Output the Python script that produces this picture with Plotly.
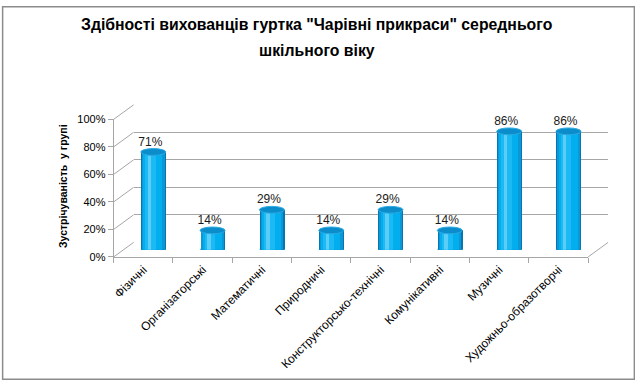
import plotly.graph_objects as go

# ---- data ----
categories = ["Фізичні", "Організаторські", "Математичні", "Природничі",
              "Конструкторсько-технічні", "Комунікативні", "Музичні",
              "Художньо-образотворчі"]
values = [0.71, 0.14, 0.29, 0.14, 0.29, 0.14, 0.86, 0.86]
y_ticks = [0, 0.2, 0.4, 0.6, 0.8, 1.0]
title_lines = ['Здібності вихованців гуртка "Чарівні прикраси" середнього',
               'шкільного віку']
y_title = "Зустрічуваність\u00a0\u00a0у групі"

W, H = 635, 386
GRID = "#a6a6a6"

def px(x):
    return x / W

def py(y):
    return 1 - y / H

# front plane (axes), back wall, middle plane (bars)
front_x = (112, 588)
front_y = (259, 117)
depth = (20, -15)
back_x = (front_x[0] + depth[0], front_x[1] + depth[0])
back_y = (front_y[0] + depth[1], front_y[1] + depth[1])
mid_x = (front_x[0] + depth[0] / 2, front_x[1] + depth[0] / 2)
mid_y = (front_y[0] + depth[1] / 2, front_y[1] + depth[1] / 2)

n = len(categories)
idx = list(range(n))

fig = go.Figure()

# invisible trace to set up the front category axis
fig.add_trace(go.Scatter(x=categories, y=[None] * n, xaxis="x", yaxis="y",
                         mode="markers", showlegend=False, hoverinfo="skip"))

# back wall gridlines (subplot x2/y2, drawn beneath the bars)
fig.add_trace(go.Scatter(x=[0], y=[None], xaxis="x2", yaxis="y2",
                         mode="markers", showlegend=False, hoverinfo="skip"))

# cylinder-like bars (subplot x3/y3): layered bars of decreasing width
layers = [
    (0.42, 0.0, "#0874b0"),
    (0.38, -0.005, "#0a98d6"),
    (0.32, -0.012, "#02aeee"),
    (0.18, -0.05, "#1cbaf4"),
    (0.06, -0.07, "#5ccdf7"),
]
for w, off, col in layers:
    fig.add_trace(go.Bar(x=idx, y=values, xaxis="x3", yaxis="y3",
                         width=w, offset=off - w / 2,
                         marker=dict(color=col, line=dict(width=0)),
                         showlegend=False, hoverinfo="skip"))

# data labels
fig.add_trace(go.Scatter(x=[i - 0.05 for i in idx], y=[v + 0.025 for v in values],
                         xaxis="x3", yaxis="y3", mode="text",
                         text=[f"{round(v * 100)}%" for v in values],
                         textposition="top center",
                         textfont=dict(family="Liberation Sans, Arial", size=12, color="#1a1a1a"),
                         showlegend=False, hoverinfo="skip"))

shapes = []
# cylinder caps (top ellipses) and bottoms
cap_h = 3.5 / (mid_y[0] - mid_y[1])
for i, v in zip(idx, values):
    shapes.append(dict(type="circle", xref="x3", yref="y3",
                       x0=i - 0.21, x1=i + 0.21, y0=-cap_h, y1=cap_h,
                       fillcolor="#0a98d6", line=dict(width=0), layer="below"))
    shapes.append(dict(type="circle", xref="x3", yref="y3",
                       x0=i - 0.21, x1=i + 0.21, y0=v - cap_h, y1=v + cap_h,
                       fillcolor="#0b8ccb", line=dict(color="#2aa9e2", width=1),
                       layer="above"))

# left side wall slanted lines and right floor edge
for t in y_ticks:
    yf = py(front_y[0] + t * (front_y[1] - front_y[0]))
    yb = py(back_y[0] + t * (back_y[1] - back_y[0]))
    shapes.append(dict(type="line", xref="paper", yref="paper",
                       x0=px(front_x[0]), y0=yf, x1=px(back_x[0]), y1=yb,
                       line=dict(color=GRID, width=1), layer="below"))
shapes.append(dict(type="line", xref="paper", yref="paper",
                   x0=px(front_x[1]), y0=py(front_y[0]),
                   x1=px(back_x[1]), y1=py(back_y[0]),
                   line=dict(color=GRID, width=1), layer="below"))
# outer border
shapes.append(dict(type="rect", xref="paper", yref="paper", x0=0.001, y0=0.002,
                   x1=0.999, y1=0.998,
                   line=dict(color="#8c8c8c", width=1.5), fillcolor="rgba(0,0,0,0)"))

annotations = []
title_font = dict(family="Liberation Sans", size=15.8, color="#000000")
for line, y in zip(title_lines, [19, 46]):
    annotations.append(dict(text=f"<b>{line}</b>", xref="paper", yref="paper",
                            x=px(316), y=py(y), showarrow=False, font=title_font,
                            xanchor="center", yanchor="middle"))
annotations.append(dict(text=f"<b>{y_title}</b>", xref="paper", yref="paper",
                        x=px(61), y=py(186), showarrow=False, textangle=-90,
                        font=dict(family="Liberation Sans", size=10.5,
                                  color="#000000"),
                        xanchor="center", yanchor="middle"))

ytick_font = dict(family="Liberation Sans, Arial", size=11, color="#000000")
xtick_font = dict(family="Liberation Sans, Arial", size=12, color="#000000")

fig.update_layout(
    width=W, height=H, margin=dict(l=0, r=0, t=0, b=0),
    paper_bgcolor="white", plot_bgcolor="rgba(0,0,0,0)",
    barmode="overlay", bargap=0,
    xaxis=dict(domain=[px(front_x[0]), px(front_x[1])], type="category",
               range=[-0.5, n - 0.5], tickangle=-45, tickson="boundaries",
               ticks="outside", ticklen=5, tickcolor=GRID, showline=True,
               linecolor=GRID, showgrid=False, tickfont=xtick_font, anchor="y",
               fixedrange=True),
    yaxis=dict(domain=[py(front_y[0]), py(front_y[1])], range=[0, 1],
               tickvals=y_ticks, tickformat=".0%", ticks="outside", ticklen=5,
               tickcolor=GRID, showline=True, linecolor=GRID, showgrid=False,
               zeroline=False, tickfont=ytick_font, anchor="x"),
    xaxis2=dict(domain=[px(back_x[0]), px(back_x[1])], range=[0, 1],
                visible=False, anchor="y2"),
    yaxis2=dict(domain=[py(back_y[0]), py(back_y[1])], range=[0, 1],
                tickvals=y_ticks, showgrid=True, gridcolor=GRID, gridwidth=1,
                zeroline=False, showticklabels=False, ticks="", anchor="x2",
                showline=False),
    xaxis3=dict(domain=[px(mid_x[0]), px(mid_x[1])], range=[-0.5, n - 0.5],
                visible=False, anchor="y3"),
    yaxis3=dict(domain=[py(mid_y[0]), py(mid_y[1])], range=[0, 1],
                visible=False, anchor="x3"),
    shapes=shapes, annotations=annotations,
)

fig.write_html("out.html", config={"displayModeBar": False},
               post_script="document.body.style.margin='0';")
